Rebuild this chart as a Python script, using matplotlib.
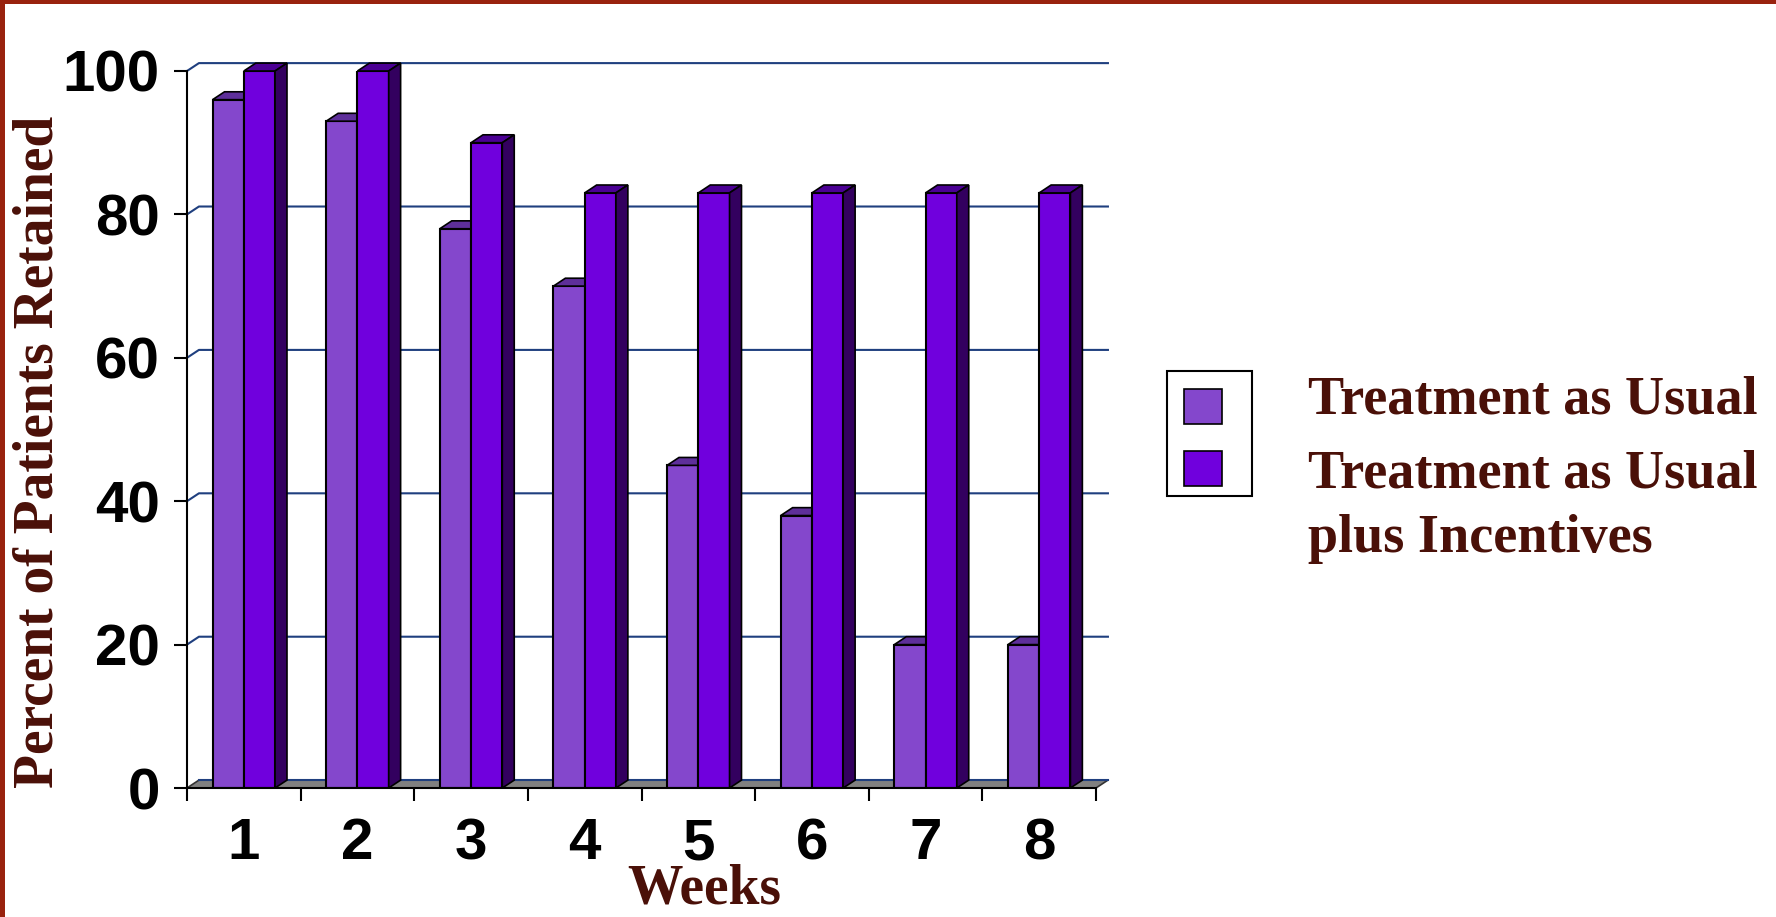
import matplotlib.pyplot as plt
from matplotlib.patches import Polygon, Rectangle

# Patient retention by week, two treatment arms
weeks = ["1", "2", "3", "4", "5", "6", "7", "8"]
usual = [96, 93, 78, 70, 45, 38, 20, 20]
incentives = [100, 100, 90, 83, 83, 83, 83, 83]
series_names = ["Treatment as Usual", "Treatment as Usual", "plus Incentives"]

c_usual = "#8447CC"
c_usual_top = "#5E2F9A"
c_inc = "#7000DD"
c_inc_top = "#4B0094"
c_inc_side = "#33005F"
brown = "#4A1008"
grid_blue = "#1F3F7F"

W, H = 1776, 917
fig = plt.figure(figsize=(W / 100, H / 100), dpi=100)
ax = fig.add_axes([187 / W, 1 - 788 / H, 909 / W, 717 / H])
ax.set_xlim(0, len(weeks))
ax.set_ylim(0, 100)

# depth of the fake 3d look, in data units
ddx, ddy = 0.105, 1.1
bw = 0.275

# floor and back wall grid
n = len(weeks)
ax.add_patch(Polygon([(0, 0), (n, 0), (n + ddx, ddy), (ddx, ddy)], closed=True,
                     facecolor="#808080", edgecolor="#333333", lw=1.2, zorder=1, clip_on=False))
ax.plot([ddx, n + ddx], [ddy, ddy], color=grid_blue, lw=1.5, zorder=1.1, clip_on=False)
for v in range(20, 101, 20):
    ax.plot([0, ddx, n + ddx], [v, v + ddy, v + ddy], color=grid_blue, lw=1.5,
            zorder=1, clip_on=False)

x_usual = [i + 0.5 - bw / 2 for i in range(n)]
x_inc = [i + 0.5 + bw / 2 for i in range(n)]

for i in range(n):
    z = 2 + i * 0.1
    ax.bar(x_usual[i], usual[i], width=bw, color=c_usual, edgecolor="black", lw=1.5, zorder=z)
    x0 = x_usual[i] - bw / 2
    v = usual[i]
    ax.add_patch(Polygon([(x0, v), (x0 + bw, v), (x0 + bw + ddx, v + ddy), (x0 + ddx, v + ddy)],
                         closed=True, facecolor=c_usual_top, edgecolor="black", lw=1.2,
                         zorder=z + 0.01, clip_on=False))
    ax.bar(x_inc[i], incentives[i], width=bw, color=c_inc, edgecolor="black", lw=1.5, zorder=z + 0.02)
    x0 = x_inc[i] - bw / 2
    v = incentives[i]
    ax.add_patch(Polygon([(x0, v), (x0 + bw, v), (x0 + bw + ddx, v + ddy), (x0 + ddx, v + ddy)],
                         closed=True, facecolor=c_inc_top, edgecolor="black", lw=1.2,
                         zorder=z + 0.03, clip_on=False))
    ax.add_patch(Polygon([(x0 + bw, 0), (x0 + bw + ddx, ddy), (x0 + bw + ddx, v + ddy), (x0 + bw, v)],
                         closed=True, facecolor=c_inc_side, edgecolor="black", lw=1.2,
                         zorder=z + 0.03, clip_on=False))

for s in ["top", "right"]:
    ax.spines[s].set_visible(False)
ax.spines["left"].set_linewidth(1.5)
ax.spines["bottom"].set_linewidth(1.5)
ax.spines["left"].set_zorder(5)
ax.spines["bottom"].set_zorder(5)

ax.set_yticks(range(0, 101, 20))
ax.tick_params(axis="y", length=9.5, width=1.5, pad=10)
ax.set_xticks(range(n + 1))
ax.set_xticklabels([])
ax.set_xticks([i + 0.5 for i in range(n)], minor=True)
ax.set_xticklabels(weeks, minor=True)
ax.tick_params(axis="x", which="major", length=9, width=1.5)
ax.tick_params(axis="x", which="minor", length=0, pad=21)
for lbl in ax.get_yticklabels() + ax.get_xticklabels(minor=True):
    lbl.set_fontfamily("Liberation Sans")
    lbl.set_fontweight("bold")
    lbl.set_fontsize(42)

serif = "Liberation Serif"
fig.text(39 / W, 1 - 452 / H, "Percent of Patients Retained", rotation=90, ha="center",
         va="center", fontsize=40, fontweight="bold", family=serif, color=brown)
fig.text(704 / W, 1 - 903 / H, "Weeks", ha="center", va="baseline", fontsize=40,
         fontweight="bold", family=serif, color=brown)

# legend box with swatches, labels sit to its right
fig.add_artist(Rectangle((1167 / W, 1 - 496 / H), 85 / W, 125 / H, transform=fig.transFigure,
                         facecolor="white", edgecolor="black", lw=1.5))
fig.add_artist(Rectangle((1184 / W, 1 - 424 / H), 38 / W, 35 / H, transform=fig.transFigure,
                         facecolor=c_usual, edgecolor="black", lw=1.2))
fig.add_artist(Rectangle((1184 / W, 1 - 486 / H), 38 / W, 35 / H, transform=fig.transFigure,
                         facecolor=c_inc, edgecolor="black", lw=1.2))
for txt, base in zip(series_names, [413, 487, 552]):
    fig.text(1308 / W, 1 - base / H, txt, ha="left", va="baseline", fontsize=39,
             fontweight="bold", family=serif, color=brown)

# red frame along the top and left edges
fig.add_artist(Rectangle((0, 1 - 4 / H), 1, 4 / H, transform=fig.transFigure,
                         facecolor="#99220E", edgecolor="none"))
fig.add_artist(Rectangle((0, 0), 5 / W, 1, transform=fig.transFigure,
                         facecolor="#99220E", edgecolor="none"))

fig.savefig("out.png", dpi=100, facecolor="white")
